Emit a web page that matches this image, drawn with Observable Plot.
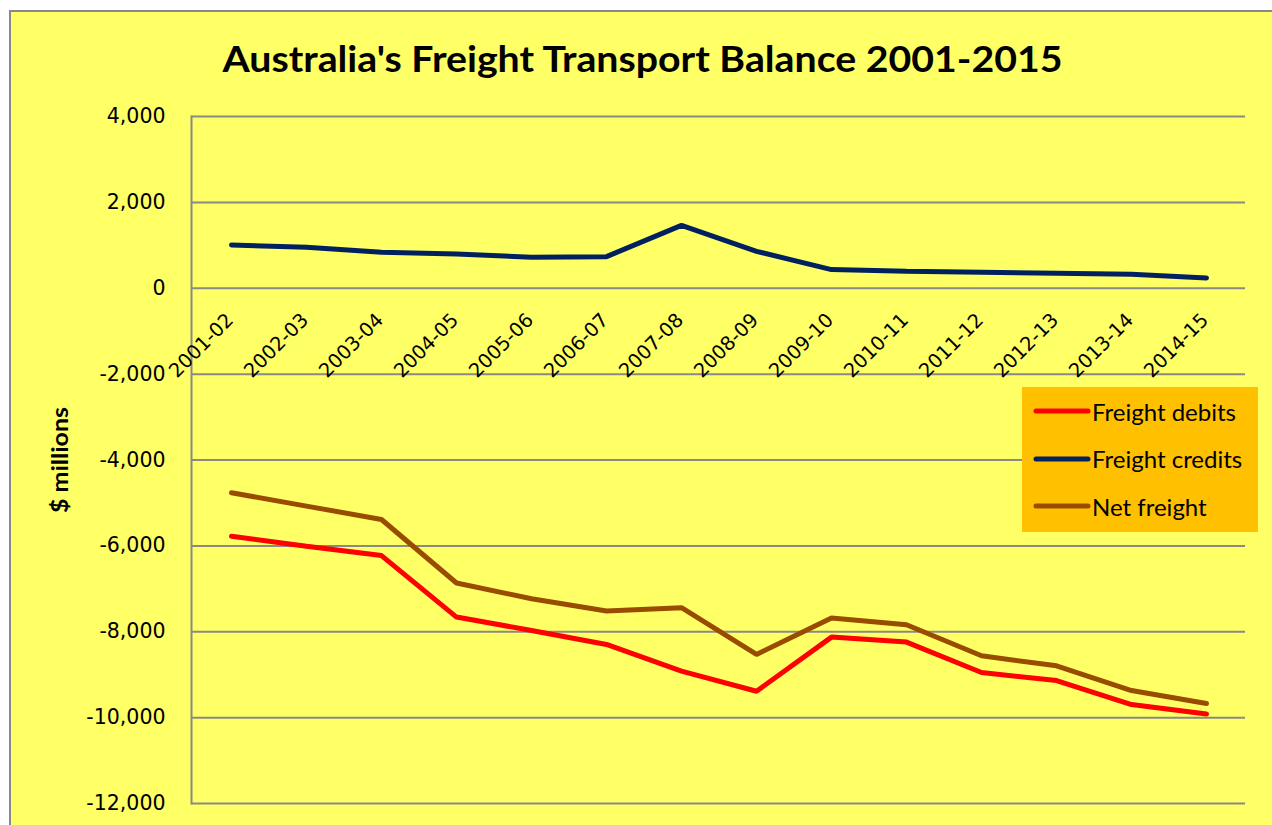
<!DOCTYPE html>
<html><head><meta charset="utf-8">
<script src="https://cdn.jsdelivr.net/npm/d3@7"></script>
<script src="https://cdn.jsdelivr.net/npm/@observablehq/plot@0.6"></script>
<style>
html,body{margin:0;padding:0;overflow:hidden;background:#fff;width:1272px;height:825px;}
#frame{position:absolute;left:9px;top:10px;width:1320px;height:900px;border:2px solid #888;background:#FFFF66;box-sizing:border-box;}
#chart{position:absolute;left:0;top:0;}
#legend{position:absolute;left:1022px;top:387px;width:236px;height:145px;background:#FFC000;}
.row{position:absolute;left:0;height:30px;display:flex;align-items:center;}
.row svg{margin-left:11px;margin-right:0px;}
.row span{font-family:Lato, "Open Sans", sans-serif;font-size:24px;color:#000;}
</style></head><body>
<div id="frame"></div>
<div id="chart"></div>
<div id="legend"></div>
<script>
const categories = ["2001-02","2002-03","2003-04","2004-05","2005-06","2006-07","2007-08","2008-09","2009-10","2010-11","2011-12","2012-13","2013-14","2014-15"];
const freightDebits  = [-5774,-6008,-6226,-7658,-7969,-8296,-8918,-9385,-8125,-8241,-8949,-9136,-9696,-9914];
const freightCredits = [1008,953,837,798,721,736,1465,860,434,395,372,349,326,240];
const netFreight     = [-4763,-5074,-5385,-6864,-7230,-7518,-7440,-8529,-7681,-7837,-8560,-8794,-9370,-9673];
const seriesNames  = ["Freight debits","Freight credits","Net freight"];
const seriesColors = ["#FF0000","#002060","#994C00"];
const yTicks = [4000,2000,0,-2000,-4000,-6000,-8000,-10000,-12000];
const titleText = "Australia's Freight Transport Balance 2001-2015";
const yLabel = "$ millions";
const zeroLine = 0;

const seriesValues = [freightDebits, freightCredits, netFreight];
const rows = [];
seriesNames.forEach((s, si) => categories.forEach((c, i) => rows.push({series: s, year: c, value: seriesValues[si][i]})));

const fmt = d => (d < 0 ? "-" : "") + d3.format(",")(Math.abs(d));

const chart = Plot.plot({
  width: 1272, height: 825,
  marginLeft: 191, marginRight: 27, marginTop: 116, marginBottom: 22,
  style: {background: "transparent", overflow: "visible"},
  x: {type: "point", domain: categories, padding: 0.5, axis: null},
  y: {domain: [-12000, 4000], axis: null},
  color: {domain: seriesNames, range: seriesColors},
  marks: [
    Plot.ruleY(yTicks, {stroke: "#898989", strokeWidth: 2}),
    Plot.frame({anchor: "left", stroke: "#898989", strokeWidth: 2}),
    Plot.axisY(yTicks, {anchor: "left", tickSize: 0, tickPadding: 26, tickFormat: fmt, fontSize: 20.5, fontFamily: "DejaVu Sans", fill: "#000", label: null}),
    Plot.text(categories, {x: d => d, y: () => zeroLine, rotate: -45, textAnchor: "end", lineAnchor: "bottom", dx: 3, dy: 33, fontSize: 19.5, fontFamily: "DejaVu Sans", fill: "#000"}),
    Plot.line(rows, {x: "year", y: "value", z: "series", stroke: "series", strokeWidth: 5, strokeLinecap: "round", strokeLinejoin: "miter"}),
    Plot.text([titleText], {frameAnchor: "top", dx: -76, dy: -45, lineAnchor: "bottom", textAnchor: "middle", fontSize: 36, fontWeight: "bold", fontFamily: "Lato", fill: "#000", className: "ttl"}),
    Plot.text([yLabel], {frameAnchor: "left", dx: -131, rotate: -90, textAnchor: "middle", fontSize: 23, fontWeight: "bold", fontFamily: "Lato", fill: "#000", className: "ylab"})
  ]
});
document.getElementById("chart").appendChild(chart);
const t = chart.querySelector(".ttl text");
if (t) { t.setAttribute("textLength", 840); t.setAttribute("lengthAdjust", "spacingAndGlyphs"); }
const yl = chart.querySelector(".ylab text");
if (yl) { yl.setAttribute("textLength", 106); yl.setAttribute("lengthAdjust", "spacingAndGlyphs"); }

const legend = document.getElementById("legend");
seriesNames.forEach((name, i) => {
  const row = document.createElement("div");
  row.className = "row";
  row.style.top = (9 + 47.5 * i) + "px";
  row.innerHTML = `<svg width="59" height="10"><line x1="3" y1="5" x2="55" y2="5" stroke="${seriesColors[i]}" stroke-width="5" stroke-linecap="round"/></svg><span>${name}</span>`;
  legend.appendChild(row);
});
</script></body></html>
